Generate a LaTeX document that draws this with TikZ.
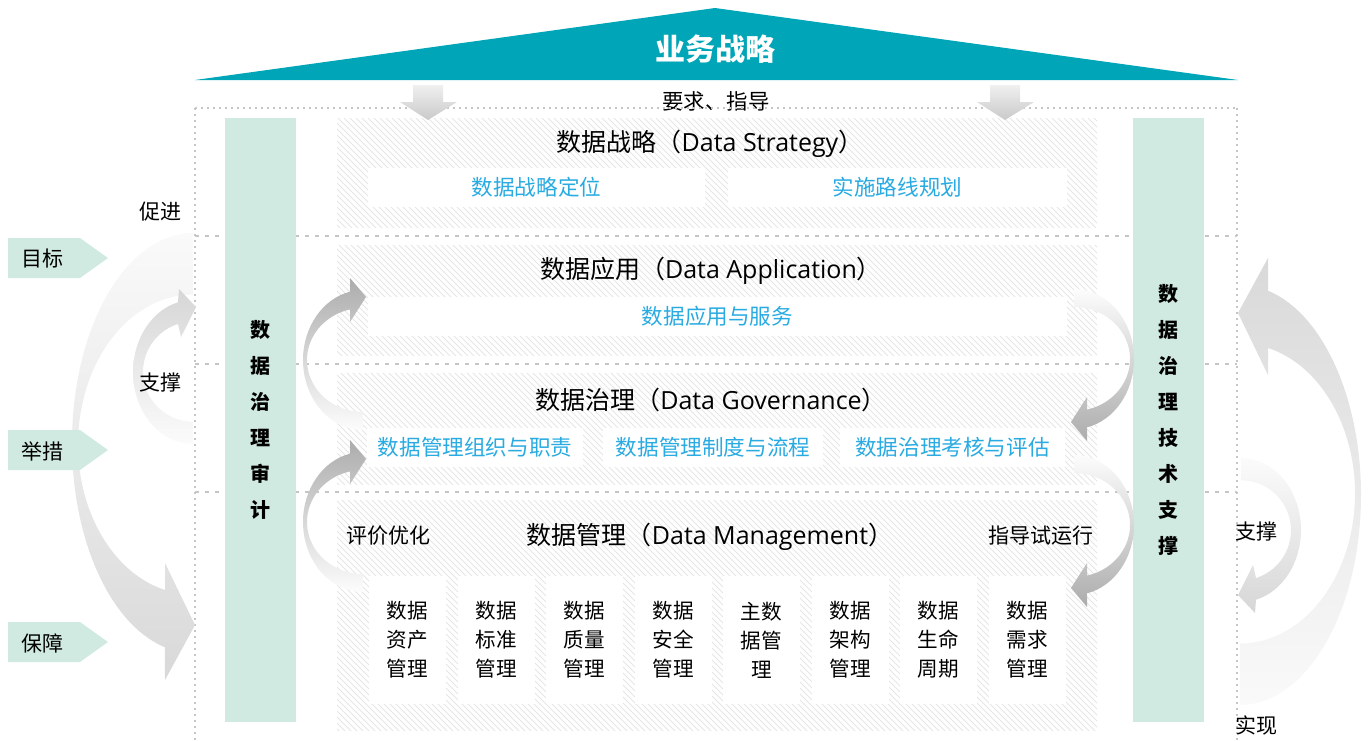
\documentclass[tikz,border=0pt]{standalone}
\usepackage{fontspec}
\setmainfont{Noto Sans CJK SC}
\newfontfamily\enfont{Open Sans}
\usetikzlibrary{patterns}
\definecolor{bizteal}{RGB}{0,165,183}
\definecolor{barmint}{RGB}{209,234,225}
\definecolor{itemblue}{RGB}{41,171,226}
\definecolor{framegray}{RGB}{198,198,198}
\definecolor{hatchgray}{RGB}{230,230,230}
\tikzset{
  layer/.style={pattern=north west lines, pattern color=hatchgray},
  frame/.style={framegray, line width=0.9pt, dash pattern=on 0.9pt off 2.1pt},
  divider/.style={framegray, line width=0.7pt, dash pattern=on 2pt off 3pt},
  ttl/.style={font=\fontsize{12.5}{15}\selectfont},
  sbox/.style={fill=white, text=itemblue, inner sep=0pt, minimum height=19.5pt,
    font=\fontsize{10.8}{13}\selectfont},
  mbox/.style={fill=white, align=center, inner sep=0pt, minimum width=38.5pt,
    minimum height=64pt, font=\fontsize{10.3}{14.5}\selectfont},
  side/.style={font=\fontsize{10.5}{13}\selectfont},
  bar/.style={fill=barmint, align=center, inner sep=0pt, minimum width=35.5pt,
    minimum height=302pt, font=\bfseries\fontsize{10}{18}\selectfont},
  tag/.style={fill=barmint},
  downarr/.style={top color=gray!12, bottom color=gray!42},
  bigfadeL/.style={top color=gray!4, bottom color=gray!30},
  bigfadeR/.style={top color=gray!30, bottom color=gray!4},
  smallfadeL/.style={top color=gray!32, bottom color=gray!3},
  smallfadeR/.style={top color=gray!3, bottom color=gray!32},
  midfadeL/.style={top color=gray!65, middle color=gray!45, bottom color=gray!2},
  midfadeR/.style={top color=gray!2, middle color=gray!45, bottom color=gray!65}
}
\begin{document}
\begin{tikzpicture}[x=0.5pt,y=-0.5pt]
\useasboundingbox (0,0) rectangle (1371,740);
% business strategy roof
\fill[bizteal] (195,80) -- (715,8) -- (1238,80) -- cycle;
\node[font=\bfseries\fontsize{15}{18}\selectfont, text=white] (biz) at (715,49) {业务战略};
\node[font=\fontsize{10.7}{13}\selectfont] (req) at (716,101) {要求、指导};

% frame and dividers
\draw[frame] (195,108) -- (1237,108);
\draw[frame] (195,108) -- (195,740);
\draw[frame] (1237,108) -- (1237,740);
\draw[divider] (195,236) -- (1237,236);
\draw[divider] (195,364) -- (1237,364);
\draw[divider] (195,492) -- (1237,492);

% hatched layers
\fill[layer] (337,118) rectangle (1097,227);
\fill[layer] (337,245) rectangle (1097,355);
\fill[layer] (337,373) rectangle (1097,484);
\fill[layer] (337,500) rectangle (1097,730);

% down arrows
\shade[downarr] (413,85) -- (443,85) -- (443,102) -- (457,102) -- (428,120) -- (400,102) -- (413,102) -- cycle;
\shade[downarr] (990,85) -- (1020,85) -- (1020,102) -- (1034,102) -- (1005,120) -- (977,102) -- (990,102) -- cycle;

% side bars
\node[bar] (audit) at (260.5,420) {数\\据\\治\\理\\审\\计};
\node[bar] (tech) at (1168,420) {数\\据\\治\\理\\技\\术\\支\\撑};

% strategy
\node[ttl] (strat) at (710,144) {数据战略（{\enfont Data Strategy}）};
\node[sbox, minimum width=168.5pt] (posit) at (536.5,187.5) {数据战略定位};
\node[sbox, minimum width=169.5pt] (route) at (897.5,187.5) {实施路线规划};

% application
\node[ttl] (appl) at (711,271) {数据应用（{\enfont Data Application}）};
\node[sbox, minimum width=349.5pt] (serv) at (717.5,316) {数据应用与服务};

% governance
\node[ttl] (gov) at (711,400) {数据治理（{\enfont Data Governance}）};
\node[sbox, minimum width=108pt] (org) at (475,447) {数据管理组织与职责};
\node[sbox, minimum width=110pt] (rule) at (713,447) {数据管理制度与流程};
\node[sbox, minimum width=112.5pt] (eval) at (952.5,447) {数据治理考核与评估};

% management
\node[ttl] (mgmt) at (710,537) {数据管理（{\enfont Data Management}）};
\node[side] (opt) at (388,536) {评价优化};
\node[side] (trial) at (1041,536) {指导试运行};
\node[mbox] (m1) at (407.5,640) {数据\\资产\\管理};
\node[mbox] (m2) at (496,640) {数据\\标准\\管理};
\node[mbox] (m3) at (584.5,640) {数据\\质量\\管理};
\node[mbox] (m4) at (673,640) {数据\\安全\\管理};
\node[mbox] (m5) at (761.5,640) {主数\\据管\\理};
\node[mbox] (m6) at (850,640) {数据\\架构\\管理};
\node[mbox] (m7) at (938.5,640) {数据\\生命\\周期};
\node[mbox] (m8) at (1027,640) {数据\\需求\\管理};

% curved arrows, left side
\shade[bigfadeL] (193,233) arc[start angle=270, end angle=103.4, x radius=121, y radius=210]
  -- (165,680) -- (195,625) -- (165,563) -- (165,590)
  arc[start angle=104.1, end angle=270, x radius=115, y radius=150] -- cycle;
\shade[smallfadeL] (193,444) arc[start angle=90, end angle=255.5, x radius=60, y radius=72]
  -- (179,289) -- (196,307) -- (181,337) -- (178,324)
  arc[start angle=252.5, end angle=90, x radius=50, y radius=50] -- cycle;
\shade[midfadeL] (363,430) arc[start angle=90, end angle=257.5, x radius=60, y radius=70]
  -- (350,278) -- (366,297) -- (350,322) -- (350,309.4)
  arc[start angle=256.6, end angle=90, x radius=56, y radius=52] -- cycle;
\begin{scope}[shift={(0,162)}]
\shade[midfadeL] (363,430) arc[start angle=90, end angle=257.5, x radius=60, y radius=70]
  -- (350,278) -- (366,297) -- (350,322) -- (350,309.4)
  arc[start angle=256.6, end angle=90, x radius=56, y radius=52] -- cycle;
\end{scope}

% curved arrows, right side
\shade[midfadeR] (1074,289) arc[start angle=-90, end angle=77.5, x radius=60, y radius=70]
  -- (1087,441) -- (1071,422) -- (1087,397) -- (1087,409.6)
  arc[start angle=76.6, end angle=-90, x radius=56, y radius=52] -- cycle;
\begin{scope}[shift={(0,166)}]
\shade[midfadeR] (1074,289) arc[start angle=-90, end angle=77.5, x radius=60, y radius=70]
  -- (1087,441) -- (1071,422) -- (1087,397) -- (1087,409.6)
  arc[start angle=76.6, end angle=-90, x radius=56, y radius=52] -- cycle;
\end{scope}
\shade[smallfadeR] (1241,458) arc[start angle=-90, end angle=75.5, x radius=60, y radius=72]
  -- (1255,613) -- (1238,595) -- (1253,565) -- (1256,578)
  arc[start angle=72.5, end angle=-90, x radius=50, y radius=50] -- cycle;
\shade[bigfadeR] (1240,705) arc[start angle=90, end angle=-76.6, x radius=121, y radius=210]
  -- (1268,258) -- (1238,313) -- (1268,375) -- (1268,348)
  arc[start angle=-75.9, end angle=90, x radius=115, y radius=150] -- cycle;

% left tags
\fill[tag] (8,238) -- (80,238) -- (108,258) -- (80,278) -- (8,278) -- cycle;
\fill[tag] (8,430) -- (80,430) -- (108,450) -- (80,470) -- (8,470) -- cycle;
\fill[tag] (8,622) -- (80,622) -- (108,642) -- (80,662) -- (8,662) -- cycle;
\node[side] (goal) at (42,259) {目标};
\node[side] (act) at (42,451) {举措};
\node[side] (guar) at (42,643) {保障};

% side labels
\node[side] (promo) at (160,212) {促进};
\node[side] (supL) at (160,383) {支撑};
\node[side] (supR) at (1256,532) {支撑};
\node[side] (real) at (1256,725) {实现};
\end{tikzpicture}
\end{document}
